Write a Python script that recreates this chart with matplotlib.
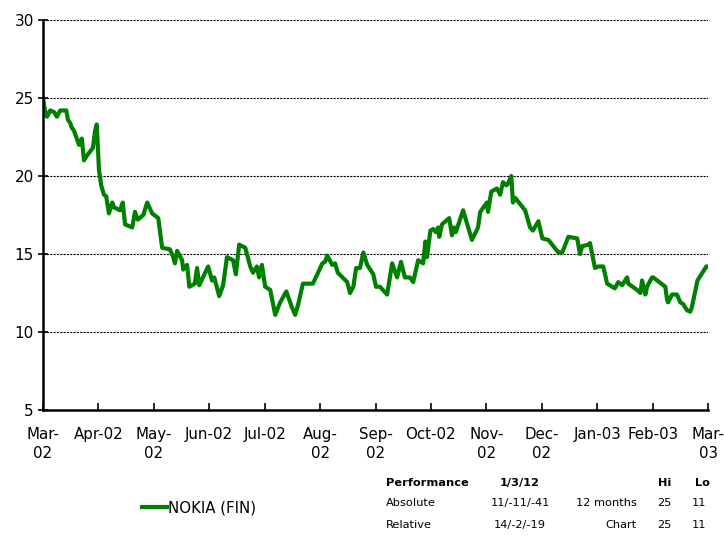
import matplotlib
matplotlib.use("Agg")
import matplotlib.pyplot as plt

# months since Mar-02 (fractional) and share price
months = [0.00, 0.04, 0.07, 0.13, 0.20, 0.25, 0.31, 0.42, 0.45, 0.49, 0.52, 0.56,
          0.60, 0.65, 0.70, 0.74, 0.79, 0.90, 0.94, 0.97, 1.01, 1.05, 1.10, 1.14,
          1.19, 1.25, 1.28, 1.39, 1.44, 1.48, 1.61, 1.66, 1.71, 1.81, 1.88, 1.97,
          2.08, 2.15, 2.29, 2.35, 2.38, 2.42, 2.51, 2.53, 2.60, 2.64, 2.74, 2.78,
          2.82, 2.98, 3.05, 3.09, 3.18, 3.25, 3.32, 3.43, 3.48, 3.54, 3.65, 3.74,
          3.79, 3.86, 3.90, 3.95, 4.01, 4.10, 4.19, 4.28, 4.39, 4.49, 4.55, 4.60,
          4.69, 4.87, 4.95, 5.04, 5.09, 5.13, 5.22, 5.27, 5.32, 5.49, 5.54, 5.60,
          5.65, 5.72, 5.78, 5.85, 5.96, 6.01, 6.08, 6.21, 6.30, 6.39, 6.46, 6.53,
          6.62, 6.68, 6.77, 6.86, 6.90, 6.93, 6.99, 7.04, 7.09, 7.13, 7.15, 7.20,
          7.33, 7.38, 7.42, 7.45, 7.58, 7.74, 7.85, 7.89, 8.01, 8.03, 8.09, 8.19,
          8.25, 8.30, 8.36, 8.39, 8.45, 8.48, 8.52, 8.70, 8.79, 8.84, 8.94, 9.01,
          9.12, 9.30, 9.37, 9.48, 9.64, 9.69, 9.73, 9.84, 9.87, 9.96, 10.02, 10.11,
          10.18, 10.27, 10.32, 10.38, 10.45, 10.54, 10.56, 10.72, 10.78, 10.81, 10.87, 10.90,
          10.99, 11.01, 11.23, 11.26, 11.28, 11.35, 11.44, 11.50, 11.55, 11.62, 11.68, 11.71,
          11.81, 11.90, 11.97, 12.00]
price = [25.0, 24.1, 23.8, 24.2, 24.1, 23.8, 24.2, 24.2, 23.6, 23.4, 23.1, 22.9,
         22.5, 22.0, 22.4, 21.0, 21.3, 21.8, 22.9, 23.3, 20.4, 19.4, 18.8, 18.7,
         17.6, 18.3, 18.0, 17.8, 18.3, 16.9, 16.7, 17.7, 17.2, 17.5, 18.3, 17.6,
         17.3, 15.4, 15.3, 14.8, 14.4, 15.2, 14.6, 14.0, 14.3, 12.9, 13.1, 14.1,
         13.0, 14.2, 13.3, 13.5, 12.3, 13.0, 14.8, 14.6, 13.7, 15.6, 15.4, 14.2,
         13.8, 14.2, 13.5, 14.3, 12.9, 12.7, 11.1, 11.9, 12.6, 11.6, 11.1, 11.7,
         13.1, 13.1, 13.7, 14.4, 14.5, 14.9, 14.3, 14.4, 13.8, 13.2, 12.5, 12.9,
         14.1, 14.1, 15.1, 14.3, 13.7, 12.9, 12.9, 12.4, 14.4, 13.5, 14.5, 13.5,
         13.5, 13.2, 14.6, 14.4, 15.8, 14.8, 16.5, 16.6, 16.4, 16.7, 16.1, 16.9,
         17.3, 16.2, 16.7, 16.4, 17.8, 15.9, 16.7, 17.7, 18.3, 17.7, 19.0, 19.2,
         18.8, 19.6, 19.4, 19.5, 20.0, 18.3, 18.6, 17.8, 16.7, 16.5, 17.1, 16.0,
         15.9, 15.1, 15.1, 16.1, 16.0, 15.0, 15.5, 15.6, 15.7, 14.1, 14.2, 14.2,
         13.1, 12.9, 12.8, 13.2, 13.0, 13.5, 13.1, 12.7, 12.5, 13.3, 12.4, 12.9,
         13.5, 13.5, 12.9, 12.1, 11.9, 12.4, 12.4, 11.9, 11.8, 11.4, 11.3, 11.6,
         13.3, 13.8, 14.2, 14.2]

tick_labels = ["Mar-\n02", "Apr-02", "May-\n02", "Jun-02", "Jul-02", "Aug-\n02",
               "Sep-\n02", "Oct-02", "Nov-\n02", "Dec-\n02", "Jan-03", "Feb-03", "Mar-\n03"]

fig = plt.figure(figsize=(7.24, 5.39), dpi=100)
ax = fig.add_axes([43/724, 1-410/539, 665/724, 390/539])

line, = ax.plot(months, price, color="#008000", lw=3, solid_joinstyle="round",
                label="NOKIA (FIN)")

ax.set_xlim(0, 12)
ax.set_ylim(5, 30)
ax.set_yticks([5, 10, 15, 20, 25, 30])
ax.set_xticks(range(13))
ax.set_xticklabels(tick_labels, fontsize=10.8, linespacing=1.4, va="top")
ax.tick_params(axis="x", direction="in", length=5, width=1.2, pad=12)
ax.tick_params(axis="y", direction="inout", length=7, width=1.2, labelsize=11, pad=3)
for s in ["top", "right"]:
    ax.spines[s].set_visible(False)
for s in ["left", "bottom"]:
    ax.spines[s].set_linewidth(1.8)
ax.grid(axis="y", color="black", linestyle=(0, (2, 1)), linewidth=0.8)
ax.set_axisbelow(True)

fig.legend(handles=[line], loc="center left", bbox_to_anchor=(128/724, 1-508/539),
           frameon=False, fontsize=10.8, handlelength=1.7, handletextpad=0.05)

# performance table
fs = 8.2
fig.text(386/724, 1-483/539, "Performance", fontsize=fs, weight="bold", va="center")
fig.text(520/724, 1-483/539, "1/3/12", fontsize=fs, weight="bold", va="center", ha="center")
fig.text(671/724, 1-483/539, "Hi", fontsize=fs, weight="bold", va="center", ha="right")
fig.text(710/724, 1-483/539, "Lo", fontsize=fs, weight="bold", va="center", ha="right")
rows = [("Absolute", "11/-11/-41", "12 months", "25", "11"),
        ("Relative", "14/-2/-19", "Chart", "25", "11")]
for i, (a, b, c, d, e) in enumerate(rows):
    y = 1 - (503 + 22*i)/539
    fig.text(386/724, y, a, fontsize=fs, va="center")
    fig.text(520/724, y, b, fontsize=fs, va="center", ha="center")
    fig.text(637/724, y, c, fontsize=fs, va="center", ha="right")
    fig.text(664/724, y, d, fontsize=fs, va="center", ha="center")
    fig.text(699/724, y, e, fontsize=fs, va="center", ha="center")

fig.savefig("out.png", dpi=100)
